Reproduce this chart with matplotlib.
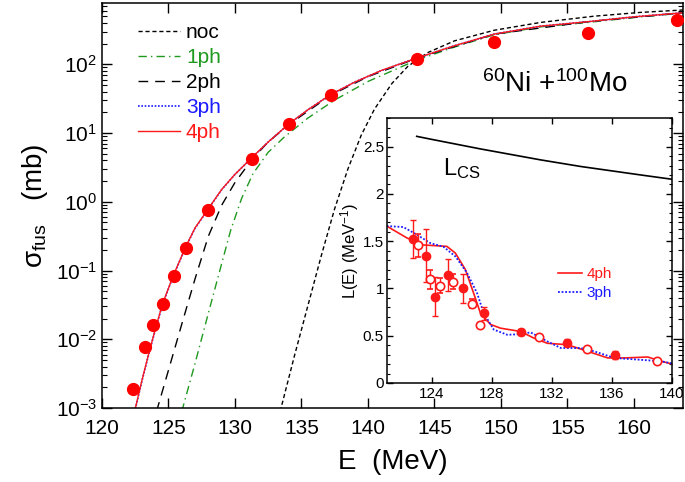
import matplotlib
matplotlib.use("Agg")
import matplotlib.pyplot as plt
from matplotlib.ticker import LogLocator, MultipleLocator, NullFormatter, NullLocator

plt.rcParams['font.family'] = ['Liberation Sans', 'DejaVu Sans']
plt.rcParams['mathtext.fontset'] = 'custom'
plt.rcParams['mathtext.rm'] = 'Liberation Sans'
plt.rcParams['mathtext.it'] = 'Liberation Sans:italic'
plt.rcParams['mathtext.bf'] = 'Liberation Sans:bold'
plt.rcParams['axes.unicode_minus'] = False

# ---------------- main panel data ----------------
E_exp = [122.3, 123.2, 123.8, 124.56, 125.39, 126.33, 128.0, 131.26, 134.1, 137.2,
         143.66, 149.5, 156.56, 163.26]
sig_exp = [1.86e-3, 7.7e-3, 0.0162, 0.0329, 0.083, 0.21, 0.75, 4.14, 13.7, 35.4,
           121, 211, 289, 437]

E_noc = [133.4, 134.5, 135.5, 136.5, 137.5, 138.5, 139.5, 140.5, 141.8, 143.0,
         144.5, 146.5, 149.5, 153.0, 157.0, 160.5, 163.7]
sig_noc = [8.9e-4, 6.0e-3, 0.0316, 0.166, 0.794, 3.02, 9.33, 22.4, 52.5, 93.3,
           148, 219, 313, 407, 501, 569, 617]

E_1ph = [126.0, 127.0, 128.0, 129.0, 129.67, 130.5, 131.36, 132.5, 133.7, 135.5,
         137.5, 140.0, 143.66, 146.5, 149.5, 153.0, 156.56, 160.0, 163.7]
sig_1ph = [8.9e-4, 4.47e-3, 0.024, 0.126, 0.38, 1.12, 2.57, 5.25, 8.71, 16.6,
           30.2, 56.2, 115, 178, 269, 351, 407, 479, 556]

E_2ph = [124.1, 125.0, 126.0, 127.0, 128.0, 129.0, 130.0, 131.3, 132.5, 134.1,
         137.2, 140.0, 143.66, 149.5, 156.56, 163.7]
sig_2ph = [8.9e-4, 3.55e-3, 0.0166, 0.0759, 0.316, 0.891, 1.905, 4.17, 7.41, 13.5,
           35.5, 66.1, 122, 275, 417, 562]

E_4ph = [122.45, 123.0, 123.5, 124.0, 124.56, 125.39, 126.33, 127.0, 128.0, 129.0,
         130.0, 131.26, 132.5, 134.1, 135.5, 137.2, 139.0, 141.0, 143.66, 146.5,
         149.5, 153.0, 156.56, 160.0, 163.7]
sig_4ph = [8.9e-4, 2.51e-3, 6.03e-3, 0.0138, 0.0331, 0.0871, 0.229, 0.417, 0.794, 1.51,
           2.51, 4.37, 7.41, 13.8, 21.9, 36.3, 55.0, 81.3, 123, 186,
           275, 359, 417, 490, 562]
E_3ph = E_4ph
sig_3ph = [8.7e-4, 2.45e-3, 5.9e-3, 0.0135, 0.0325, 0.086, 0.226, 0.412, 0.79, 1.5,
           2.5, 4.35, 7.4, 13.8, 21.9, 36.3, 55.0, 81.0, 123, 186,
           275, 359, 417, 490, 562]

# ---------------- inset data ----------------
E_Lf = [122.78, 123.63, 124.23, 125.08, 126.08, 127.5, 129.94, 132.99, 136.2]
L_f = [1.52, 1.345, 0.914, 1.144, 1.0, 0.738, 0.54, 0.427, 0.297]
L_f_err = [0.2, 0.28, 0.21, 0.17, 0.15, 0.07, 0.03, 0.04, 0.04]
E_Lo = [123.07, 123.9, 124.57, 125.43, 126.7, 127.2, 131.17, 134.33, 139.0]
L_o = [1.455, 1.099, 1.03, 1.07, 0.84, 0.617, 0.49, 0.357, 0.23]
L_o_err = [0.12, 0.1, 0.08, 0.08, 0.05, 0.0, 0.0, 0.0, 0.0]

E_L4 = [121.0, 122.34, 123.45, 125.01, 125.57, 126.24, 126.79, 127.24, 127.91, 128.58,
        129.92, 130.8, 131.7, 133.04, 134.38, 135.72, 136.83, 138.39, 139.28, 140.17]
L_4 = [1.66, 1.535, 1.46, 1.445, 1.375, 1.2, 0.95, 0.74, 0.62, 0.58,
       0.545, 0.475, 0.42, 0.405, 0.335, 0.265, 0.265, 0.275, 0.23, 0.195]
E_L3 = [121.0, 122.1, 123.0, 123.9, 124.79, 125.57, 126.35, 127.02, 127.46, 128.13,
        129.03, 129.7, 130.59, 131.7, 132.6, 133.93, 134.82, 136.16, 137.94, 139.28, 140.17]
L_3 = [1.66, 1.65, 1.57, 1.48, 1.44, 1.34, 1.165, 0.95, 0.74, 0.565,
       0.51, 0.515, 0.535, 0.44, 0.37, 0.37, 0.335, 0.265, 0.245, 0.23, 0.2]
E_Lcs = [123.0, 123.9, 127.24, 131.25, 133.93, 137.94, 140.0]
L_cs = [2.609, 2.58, 2.476, 2.36, 2.29, 2.2, 2.155]

RED = '#ff1a1a'
GREEN = '#1f991f'
BLUE = '#1a1aff'

fig = plt.figure(figsize=(6.85, 4.82), dpi=100)
ax = fig.add_axes([0.1489, 0.1535, 0.8482, 0.8403])

ax.plot(E_noc, sig_noc, color='black', lw=1.0, dashes=(3, 2), label='noc')
ax.plot(E_1ph, sig_1ph, color=GREEN, lw=1.0, dashes=(6, 3, 1, 3), label='1ph')
ax.plot(E_2ph, sig_2ph, color='black', lw=1.0, dashes=(7, 5), label='2ph')
ax.plot(E_3ph, sig_3ph, color=BLUE, lw=1.2, dashes=(1, 1), label='3ph')
ax.plot(E_4ph, sig_4ph, color=RED, lw=1.0, label='4ph')
ax.plot(E_exp, sig_exp, 'o', color='red', ms=8.5, zorder=5)

ax.set_yscale('log')
ax.set_xlim(120, 163.7)
ax.set_ylim(1e-3, 780)
ax.xaxis.set_major_locator(MultipleLocator(5))
ax.yaxis.set_major_locator(LogLocator(base=10, numticks=20))
ax.yaxis.set_minor_locator(LogLocator(base=10, subs=range(2, 10), numticks=20))
ax.yaxis.set_minor_formatter(NullFormatter())
ax.tick_params(which='both', direction='in', top=True, right=True, labelsize=15)
ax.tick_params(which='major', length=7, width=1)
ax.tick_params(which='minor', length=3.5, width=0.8)
ax.tick_params(axis='x', pad=8)
for s in ax.spines.values():
    s.set_linewidth(1.1)
ax.set_xlabel('E  (MeV)', fontsize=20, labelpad=8)
ax.set_ylabel('σ$_{\\mathrm{fus}}$   (mb)', fontsize=20, labelpad=4)

leg = ax.legend(loc='upper left', bbox_to_anchor=(0.062, 0.95), frameon=False,
                fontsize=15, handlelength=2.0, handletextpad=0.3, labelspacing=0.29,
                borderpad=0, borderaxespad=0)
for t, c in zip(leg.get_texts(), ['black', GREEN, 'black', BLUE, RED]):
    t.set_color(c)

ax.text(0.78, 0.80, '$^{60}$Ni +$^{100}$Mo', transform=ax.transAxes, fontsize=20,
        ha='center', va='center')

# ---------------- inset ----------------
ins = fig.add_axes([0.5645, 0.2054, 0.4165, 0.5492])
ins.plot(E_Lcs, L_cs, color='black', lw=1.2)
ins.plot(E_L4, L_4, color=RED, lw=1.2, label='4ph')
ins.plot(E_L3, L_3, color=BLUE, lw=1.3, dashes=(1, 1), label='3ph')
ins.errorbar(E_Lf, L_f, yerr=L_f_err, fmt='o', color=RED, ms=6, capsize=2, elinewidth=1,
             capthick=1, zorder=5)
ins.errorbar(E_Lo, L_o, yerr=L_o_err, fmt='o', color=RED, mfc='white', mec=RED, ms=6,
             mew=1.2, capsize=2, elinewidth=1, capthick=1, zorder=5)
ins.set_xlim(121, 140)
ins.set_ylim(0, 2.8)
ins.xaxis.set_major_locator(MultipleLocator(4))
ins.xaxis.set_minor_locator(NullLocator())
ins.yaxis.set_major_locator(MultipleLocator(0.5))
ins.yaxis.set_minor_locator(MultipleLocator(0.1))
ins.set_yticks([0, 0.5, 1, 1.5, 2, 2.5])
ins.set_yticklabels(['0', '0.5', '1', '1.5', '2', '2.5'])
ins.tick_params(which='both', direction='in', top=True, right=True, labelsize=11)
ins.tick_params(which='major', length=4.5, width=1)
ins.tick_params(which='minor', length=2.5, width=0.8)
ins.tick_params(axis='x', pad=3)
ins.tick_params(axis='y', pad=2)
for s in ins.spines.values():
    s.set_linewidth(1.1)
ins.set_ylabel('L(E) (MeV$^{-1}$)', fontsize=12, labelpad=1)
ins.text(124.75, 2.2, 'L$_{\\mathrm{CS}}$', fontsize=17, ha='left', va='baseline')
il = ins.legend(loc='center left', bbox_to_anchor=(0.6, 0.375), frameon=False, fontsize=11,
                handlelength=1.6, handletextpad=0.3, labelspacing=0.35, borderpad=0,
                borderaxespad=0)
for t, c in zip(il.get_texts(), [RED, BLUE]):
    t.set_color(c)

fig.savefig('out.png', dpi=100)
